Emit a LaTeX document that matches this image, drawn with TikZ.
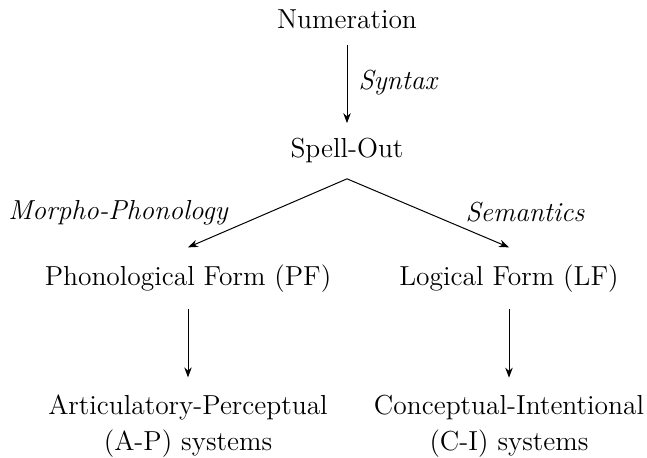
\documentclass[tikz,border=0pt]{standalone}
\usetikzlibrary{arrows.meta,calc}
\begin{document}
\begin{tikzpicture}[x=0.4pt,y=-0.4pt,
  every node/.style={inner sep=0pt,font=\fontsize{11}{14.4}\selectfont},
  stage/.style={anchor=base,align=center},
  proc/.style={anchor=base,font=\fontsize{11}{14.4}\selectfont\itshape},
  arr/.style={-{Stealth[length=4pt,width=3pt]},line width=0.4pt}]
\useasboundingbox (0,0) rectangle (647,458);
% levels of the derivation (multi-line nodes sit on their last baseline)
\node[stage] (num)   at (347,29) {Numeration};
\node[stage] (spell) at (347,158) {Spell-Out};
\node[stage] (pf)    at (188,286) {Phonological Form (PF)};
\node[stage] (lf)    at (509,286) {Logical Form (LF)};
\node[stage] (ap)    at (188,451) {Articulatory-Perceptual\\(A-P) systems};
\node[stage] (ci)    at (509,451) {Conceptual-Intentional\\(C-I) systems};
% processes
\node[proc,anchor=base west] (syn) at (358,90) {Syntax};
\node[proc] (mph) at (118,220) {Morpho-Phonology};
\node[proc] (sem) at (525,222) {Semantics};
% connectors
\draw[arr] ($(num.south)+(0,-6pt)$) -- ($(spell.north)+(0,6pt)$);
\draw[arr] ($(spell.south)+(0,-6pt)$) -- ($(pf.north)+(0,7pt)$);
\draw[arr] ($(spell.south)+(0,-6pt)$) -- ($(lf.north)+(0,7pt)$);
\draw[arr] ($(pf.south)+(0,-6.4pt)$) -- ($(ap.north)+(0,7pt)$);
\draw[arr] ($(lf.south)+(0,-6.4pt)$) -- ($(ci.north)+(0,7pt)$);
\end{tikzpicture}
\end{document}
